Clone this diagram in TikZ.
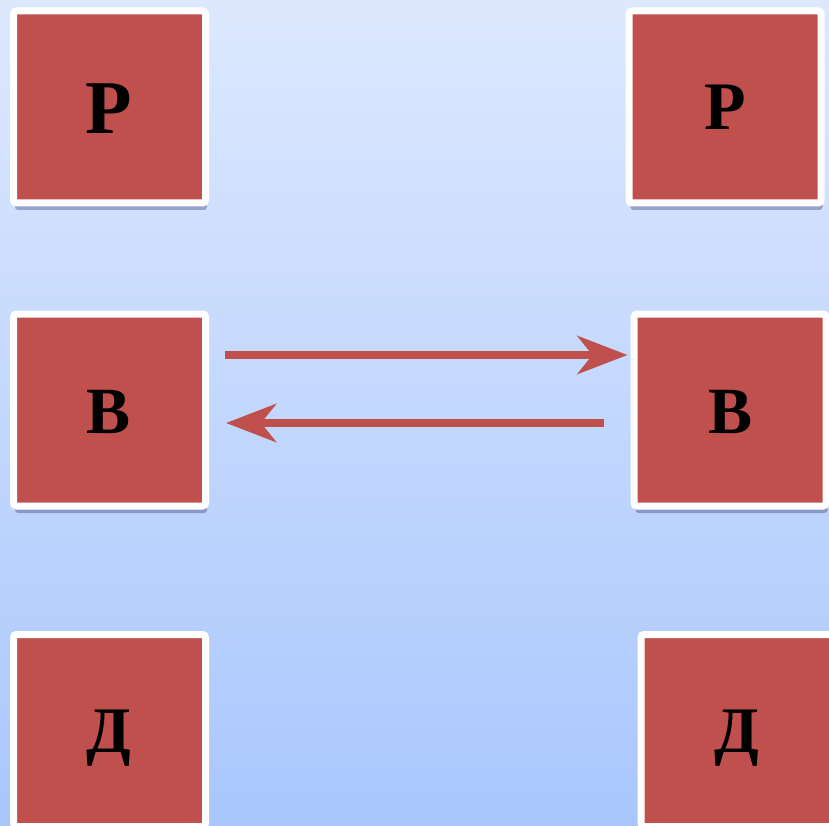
\documentclass[tikz,border=0pt]{standalone}
\usepackage{fontspec}
\setmainfont{Liberation Serif}
\usetikzlibrary{arrows.meta,shadows}
\definecolor{boxred}{HTML}{C0504D}
\definecolor{bgtop}{HTML}{DDE8FE}
\definecolor{bgbot}{HTML}{A9C7FD}
\tikzset{
  card/.style={fill=boxred, draw=white, line width=7pt, rounded corners=3pt,
    minimum size=192pt, inner sep=0pt,
    drop shadow={shadow xshift=1.5pt, shadow yshift=-7pt, opacity=0.28, fill=black!70!blue}},
  letter/.style={anchor=base, inner sep=0pt, font=\bfseries},
  arr/.style={draw=boxred, line width=8pt,
    -{Stealth[length=50pt, width=38pt, inset=15pt]}}
}
\begin{document}
\begin{tikzpicture}[x=1pt, y=-1pt]
\useasboundingbox (0,0) rectangle (829,826);
\clip (0,0) rectangle (829,826);
\shade[top color=bgtop, bottom color=bgbot] (0,0) rectangle (829,826);

\node[card] (TL) at (109.5,107) {};
\node[card] (TR) at (725,107) {};
\node[card] (ML) at (109.5,410) {};
\node[card] (MR) at (730,410) {};
\node[card] (BL) at (109.5,730.5) {};
\node[card] (BR) at (737,730.5) {};

\node[letter, font=\bfseries\fontsize{76}{76}\selectfont] (tTL) at (109,134) {Р};
\node[letter, font=\bfseries\fontsize{68}{68}\selectfont] (tTR) at (725,130) {Р};
\node[letter, font=\bfseries\fontsize{66}{66}\selectfont] (tML) at (109,433) {В};
\node[letter, font=\bfseries\fontsize{66}{66}\selectfont] (tMR) at (730,433) {В};
\node[letter, font=\bfseries\fontsize{65}{65}\selectfont] (tBL) at (109,752) {Д};
\node[letter, font=\bfseries\fontsize{65}{65}\selectfont] (tBR) at (737,752) {Д};

\draw[arr] ([shift={(16,-55)}]ML.east) -- ([shift={(-3,-55)}]MR.west);
\draw[arr] ([shift={(-27,13)}]MR.west) -- ([shift={(17,13)}]ML.east);
\end{tikzpicture}
\end{document}
